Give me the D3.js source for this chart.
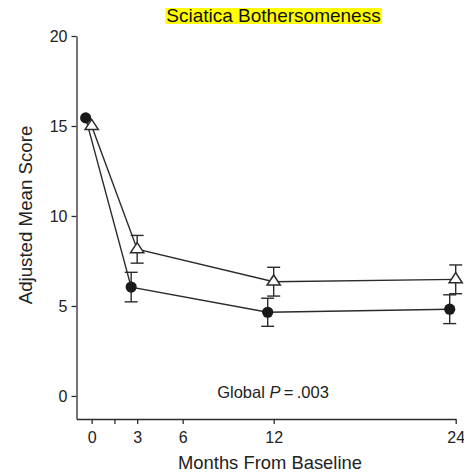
<!DOCTYPE html>
<html>
<head>
<meta charset="utf-8">
<script src="https://cdn.jsdelivr.net/npm/d3@7"></script>
<style>
  body { margin: 0; background: #fff; }
  text { font-family: "Liberation Sans", Arial, sans-serif; fill: #222; }
</style>
</head>
<body>
<script>
// values
var months = [0, 3, 12, 24];
var circleMean = [15.45, 6.05, 4.65, 4.82];
var circleErr = [null, 0.82, 0.78, 0.8];
var triMean = [15.0, 8.15, 6.35, 6.48];
var triErr = [null, 0.77, 0.8, 0.8];

var xTicks = [0, 1.5, 3, 6, 12, 24];
var xTickLabels = ["0", "", "3", "6", "12", "24"];
var yTicks = [0, 5, 10, 15, 20];

var width = 464, height = 476;
var ink = "#2b2b2b";
var dodge = -6; // circles sit a little left of the triangles

var x = d3.scaleLinear().domain([-1, 24]).range([76.5, 455.7]);
var y = d3.scaleLinear().domain([-1.28, 20]).range([419, 36]);

var svg = d3.select("body")
            .append("svg")
            .attr("width", width)
            .attr("height", height);

// axes
var yaxis = d3.axisLeft(y)
    .tickValues(yTicks)
    .tickSize(5)
    .tickPadding(4)
    .tickSizeOuter(0);

var xaxis = d3.axisBottom(x)
    .tickValues(xTicks)
    .tickFormat(function(d, i) { return xTickLabels[i]; })
    .tickSize(5)
    .tickPadding(8)
    .tickSizeOuter(0);

var gy = svg.append("g")
    .attr("transform", "translate(" + x.range()[0] + ",0)")
    .call(yaxis);

var gx = svg.append("g")
    .attr("transform", "translate(0," + y.range()[0] + ")")
    .call(xaxis);

[gx, gy].forEach(function(g) {
  g.select(".domain").attr("stroke", ink).attr("stroke-width", 1.3);
  g.selectAll(".tick line").attr("stroke", ink).attr("stroke-width", 1.3);
  g.selectAll(".tick text")
    .style("font-family", "Liberation Sans, Arial, sans-serif")
    .style("font-size", "16px")
    .attr("fill", "#222");
});

// series
function makePoints(mean, err, dx) {
  return months.map(function(m, i) {
    return { x: x(m) + dx, mean: mean[i], err: err[i] };
  });
}
var circles = makePoints(circleMean, circleErr, dodge);
var tris = makePoints(triMean, triErr, 0);

var line = d3.line()
    .x(function(d) { return d.x; })
    .y(function(d) { return y(d.mean); });

[circles, tris].forEach(function(pts) {
  svg.append("path")
      .attr("d", line(pts))
      .attr("fill", "none")
      .attr("stroke", ink)
      .attr("stroke-width", 1.4);

  var eb = svg.append("g");
  pts.filter(function(d) { return d.err != null; }).forEach(function(d) {
    var top = y(d.mean + d.err), bot = y(d.mean - d.err);
    eb.append("line").attr("x1", d.x).attr("x2", d.x).attr("y1", top).attr("y2", bot);
    eb.append("line").attr("x1", d.x - 6.5).attr("x2", d.x + 6.5).attr("y1", top).attr("y2", top);
    eb.append("line").attr("x1", d.x - 6.5).attr("x2", d.x + 6.5).attr("y1", bot).attr("y2", bot);
  });
  eb.selectAll("line").attr("stroke", ink).attr("stroke-width", 1.4);
});

svg.selectAll(".dot")
    .data(circles)
    .enter().append("circle")
    .attr("class", "dot")
    .attr("cx", function(d) { return d.x; })
    .attr("cy", function(d) { return y(d.mean); })
    .attr("r", 5.6)
    .style("fill", "#1a1a1a");

svg.selectAll(".tri")
    .data(tris)
    .enter().append("path")
    .attr("class", "tri")
    .attr("d", "M0,-6.7L6.6,3.4L-6.6,3.4Z")
    .attr("transform", function(d) { return "translate(" + d.x + "," + y(d.mean) + ")"; })
    .style("fill", "#fff")
    .style("stroke", ink)
    .style("stroke-width", 1.5);

// title with yellow highlight
var title = svg.append("text")
    .attr("x", 273.5)
    .attr("y", 22)
    .attr("text-anchor", "middle")
    .style("font-size", "19px")
    .style("fill", "#111")
    .text("Sciatica Bothersomeness");
var bb = title.node().getBBox();
svg.insert("rect", function() { return title.node(); })
    .attr("x", bb.x - 1)
    .attr("y", 8)
    .attr("width", bb.width + 2)
    .attr("height", 16)
    .style("fill", "#ffff00");

// axis titles
svg.append("text")
    .attr("transform", "translate(31.5,215) rotate(-90)")
    .attr("text-anchor", "middle")
    .style("font-size", "18.7px")
    .text("Adjusted Mean Score");

svg.append("text")
    .attr("x", 270)
    .attr("y", 469)
    .attr("text-anchor", "middle")
    .style("font-size", "18.4px")
    .text("Months From Baseline");

// p-value note
var note = svg.append("text")
    .attr("x", 273)
    .attr("y", 398)
    .attr("text-anchor", "middle")
    .style("font-size", "16.5px");
note.append("tspan").text("Global ");
note.append("tspan").style("font-style", "italic").text("P");
note.append("tspan").text("\u2009=\u2009.003");
</script>
</body>
</html>
